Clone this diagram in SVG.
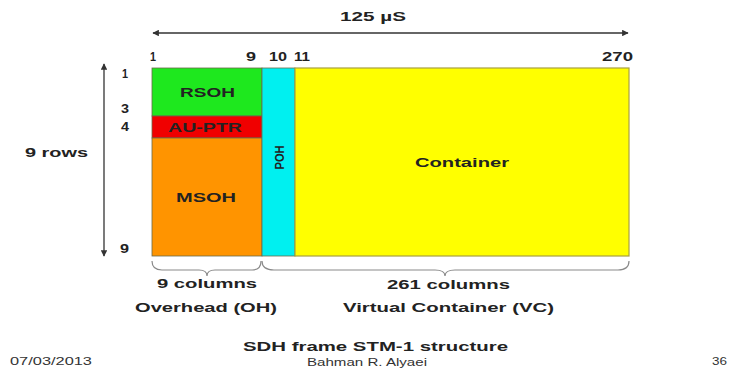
<svg xmlns="http://www.w3.org/2000/svg" width="730" height="369" viewBox="0 0 730 369">
<style>
text{font-family:"Liberation Sans",Arial,sans-serif;fill:#222;}
.b{font-weight:bold;font-size:13px;}
.m{text-anchor:middle;}
.s{font-size:10.5px;font-weight:normal;fill:#333;}
.ln{stroke:#333;stroke-width:1.3;fill:none;}
.br{stroke:#8a8a8a;stroke-width:1.2;fill:none;}
.cell{stroke:#6a6a4a;stroke-width:0.8;}
</style>
<defs>
<marker id="ah" viewBox="0 0 10 10" refX="9" refY="5" markerWidth="5" markerHeight="5" orient="auto-start-reverse">
<path d="M0,0 L10,5 L0,10 z" fill="#333"/>
</marker>
</defs>
<rect width="730" height="369" fill="#fff"/>

<g id="rsoh"><rect class="cell" x="152" y="68" width="110" height="48" fill="#1ee81e"/><text class="b m" x="207.5" y="97" textLength="55" lengthAdjust="spacingAndGlyphs">RSOH</text></g>
<g id="auptr"><rect class="cell" x="152" y="116" width="110" height="22" fill="#f00000"/><text class="b m" x="205" y="131.5" textLength="74" lengthAdjust="spacingAndGlyphs">AU-PTR</text></g>
<g id="msoh"><rect class="cell" x="152" y="138" width="110" height="118" fill="#ff9400"/><text class="b m" x="206" y="202" textLength="60" lengthAdjust="spacingAndGlyphs">MSOH</text></g>
<g id="poh"><rect class="cell" x="262" y="68" width="33" height="188" fill="#00f0f0"/><text class="b m" transform="translate(283.5,157.5) rotate(-90)" x="0" y="0" textLength="24" lengthAdjust="spacingAndGlyphs">POH</text></g>
<g id="container"><rect x="295" y="68" width="334" height="188" fill="#ffff00" stroke="#a8a040" stroke-width="1.2"/><text class="b m" x="462" y="167" textLength="94" lengthAdjust="spacingAndGlyphs">Container</text></g>

<g id="connectors">
<line class="ln" x1="153" y1="33" x2="628" y2="33" marker-start="url(#ah)" marker-end="url(#ah)"/>
<line class="ln" x1="104" y1="64" x2="104" y2="256" marker-start="url(#ah)" marker-end="url(#ah)"/>
<path class="br" d="M152,261 Q152,270 162,270 L199,270 Q207,270 207,276 Q207,270 215,270 L252,270 Q261,270 261,261"/>
<path class="br" d="M262,261 Q262,270 274,270 L435,270 Q445,270 445,276 Q445,270 455,270 L618,270 Q629,270 629,261"/>
</g>

<g id="labels">
<text class="b m" x="373" y="21" textLength="66" lengthAdjust="spacingAndGlyphs">125 µS</text>
<text class="b" x="150" y="61" textLength="6" lengthAdjust="spacingAndGlyphs">1</text>
<text class="b" x="246" y="61" textLength="10" lengthAdjust="spacingAndGlyphs">9</text>
<text class="b" x="269" y="61" textLength="18" lengthAdjust="spacingAndGlyphs">10</text>
<text class="b" x="294" y="61" textLength="16" lengthAdjust="spacingAndGlyphs">11</text>
<text class="b" x="602" y="61" textLength="31" lengthAdjust="spacingAndGlyphs">270</text>
<text class="b" x="122" y="78" textLength="6" lengthAdjust="spacingAndGlyphs">1</text>
<text class="b" x="121" y="113" textLength="8" lengthAdjust="spacingAndGlyphs">3</text>
<text class="b" x="121" y="131" textLength="8" lengthAdjust="spacingAndGlyphs">4</text>
<text class="b" x="120" y="253" textLength="9" lengthAdjust="spacingAndGlyphs">9</text>
<text class="b" x="25" y="157" textLength="63" lengthAdjust="spacingAndGlyphs">9 rows</text>
<text class="b" x="157" y="288" textLength="100" lengthAdjust="spacingAndGlyphs">9 columns</text>
<text class="b" x="387" y="289" textLength="123" lengthAdjust="spacingAndGlyphs">261 columns</text>
<text class="b" x="135" y="312" textLength="142" lengthAdjust="spacingAndGlyphs">Overhead (OH)</text>
<text class="b" x="343" y="312" textLength="211" lengthAdjust="spacingAndGlyphs">Virtual Container (VC)</text>
<text class="b" x="243" y="351" textLength="265" lengthAdjust="spacingAndGlyphs">SDH frame STM-1 structure</text>
<text class="s" x="307" y="366" textLength="120" lengthAdjust="spacingAndGlyphs">Bahman R. Alyaei</text>
<text class="s" x="10" y="365" textLength="82" lengthAdjust="spacingAndGlyphs">07/03/2013</text>
<text class="s" x="712" y="365" textLength="15" lengthAdjust="spacingAndGlyphs">36</text>
</g>
</svg>
